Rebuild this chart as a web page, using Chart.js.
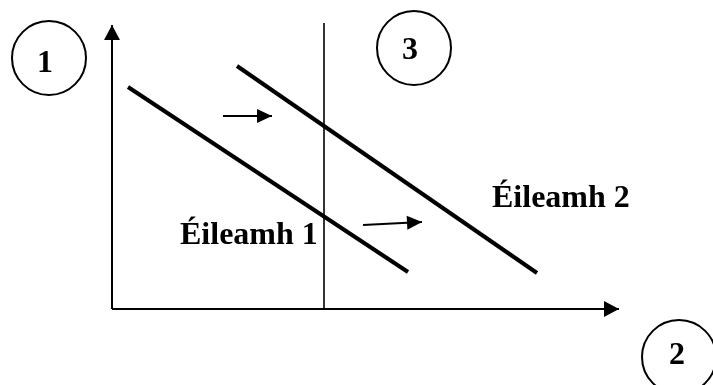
<!DOCTYPE html>
<html lang="ga">
<head>
    <meta charset="UTF-8">
    <title>Éileamh</title>
    <script src="https://cdn.jsdelivr.net/npm/chart.js"></script>
    <style>
        html, body {
            margin: 0;
            padding: 0;
            background: #ffffff;
        }
        #wrap {
            width: 713px;
            height: 385px;
        }
    </style>
</head>
<body>
    <div id="wrap">
        <canvas id="chart" width="713" height="385"></canvas>
    </div>

    <script>
        // Ais: bunphointe (0,0) ag crosbhealach na n-aiseanna
        const axisY = [{x: 0, y: 0}, {x: 0, y: 284}];
        const axisX = [{x: 0, y: 0}, {x: 507, y: 0}];

        // Cuair éilimh
        const demand1 = [{x: 16, y: 222}, {x: 296, y: 37}];
        const demand2 = [{x: 125, y: 243}, {x: 425, y: 36}];

        // Líne ingearach
        const vertical = [{x: 212, y: 0}, {x: 212, y: 286}];

        // Saighde aistrithe
        const shift1 = [{x: 111, y: 193}, {x: 160, y: 193}];
        const shift2 = [{x: 251, y: 84}, {x: 310, y: 87}];

        // Ciorcail agus a n-uimhreacha
        const circleCentres = [{x: -63, y: 251}, {x: 567, y: -48}, {x: 302, y: 261}];
        const circleNumbers = ['1', '2', '3'];
        const numberPos = [{x: -67, y: 237}, {x: 565, y: -55}, {x: 298, y: 250}];

        // Lipéid
        const curveLabels = ['Éileamh 1', 'Éileamh 2'];
        const curveLabelPos = [{x: 68, y: 65}, {x: 380, y: 102}];

        const FONT = 'bold 32px "Liberation Serif", "Times New Roman", serif';

        // saighead ag deireadh na líne
        const arrowHeads = {
            id: 'arrowHeads',
            afterDatasetsDraw(chart) {
                const ctx = chart.ctx;
                chart.data.datasets.forEach((ds, i) => {
                    if (!ds.arrow) return;
                    const pts = chart.getDatasetMeta(i).data;
                    const a = pts[pts.length - 2], b = pts[pts.length - 1];
                    const ang = Math.atan2(b.y - a.y, b.x - a.x);
                    const len = ds.arrow.len, half = ds.arrow.half;
                    ctx.save();
                    ctx.translate(b.x, b.y);
                    ctx.rotate(ang);
                    ctx.beginPath();
                    ctx.moveTo(0, 0);
                    ctx.lineTo(-len, -half);
                    ctx.lineTo(-len, half);
                    ctx.closePath();
                    ctx.fillStyle = '#000';
                    ctx.fill();
                    ctx.restore();
                });
            }
        };

        // téacs
        const textLabels = {
            id: 'textLabels',
            afterDatasetsDraw(chart) {
                const ctx = chart.ctx;
                const xs = chart.scales.x, ys = chart.scales.y;
                ctx.save();
                ctx.font = FONT;
                ctx.fillStyle = '#000';
                ctx.textBaseline = 'alphabetic';
                ctx.textAlign = 'left';
                curveLabels.forEach((t, i) => {
                    ctx.fillText(t, xs.getPixelForValue(curveLabelPos[i].x), ys.getPixelForValue(curveLabelPos[i].y));
                });
                ctx.textAlign = 'center';
                circleNumbers.forEach((t, i) => {
                    ctx.fillText(t, xs.getPixelForValue(numberPos[i].x), ys.getPixelForValue(numberPos[i].y));
                });
                ctx.restore();
            }
        };

        function lineSet(data, width, arrow) {
            return {
                data: data,
                showLine: true,
                borderColor: '#000',
                borderWidth: width,
                borderCapStyle: 'butt',
                pointRadius: 0,
                fill: false,
                clip: false,
                arrow: arrow
            };
        }

        new Chart(document.getElementById('chart'), {
            type: 'scatter',
            data: {
                datasets: [
                    lineSet(axisY, 2, {len: 15, half: 8}),
                    lineSet(axisX, 2, {len: 15, half: 8}),
                    lineSet(vertical, 1.6),
                    lineSet(demand1, 4),
                    lineSet(demand2, 4),
                    lineSet(shift1, 2, {len: 15, half: 7}),
                    lineSet(shift2, 2, {len: 15, half: 7}),
                    {
                        data: circleCentres,
                        showLine: false,
                        clip: false,
                        pointRadius: 37,
                        pointBorderWidth: 2,
                        pointBorderColor: '#000',
                        pointBackgroundColor: 'rgba(0,0,0,0)'
                    }
                ]
            },
            options: {
                responsive: false,
                animation: false,
                events: [],
                layout: { padding: 0, autoPadding: false },
                plugins: {
                    legend: { display: false },
                    tooltip: { enabled: false }
                },
                scales: {
                    x: { type: 'linear', min: -112, max: 601, display: false },
                    y: { type: 'linear', min: -76, max: 309, display: false }
                }
            },
            plugins: [arrowHeads, textLabels]
        });
    </script>
</body>
</html>
